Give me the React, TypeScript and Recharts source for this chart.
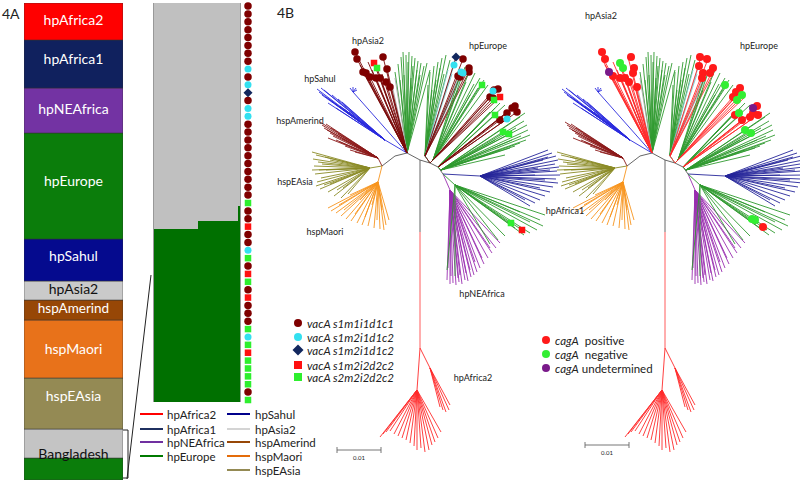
import React from 'react';
import {
  Bar,
  BarChart,
  LabelList,
  ReferenceLine,
  Scatter,
  ScatterChart,
  XAxis,
  YAxis
} from 'recharts';

const FONT = 'Lato, "Liberation Sans", sans-serif';

type Pt = [number, number];

// ---- 4A: reference populations strip (bottom to top) ----
const populations = [
  'BangladeshEurope', 'Bangladesh', 'hspEAsia', 'hspMaori', 'hspAmerind',
  'hpAsia2', 'hpSahul', 'hpEurope', 'hpNEAfrica', 'hpAfrica1', 'hpAfrica2'
];
const populationShare = [22, 29, 51, 58, 20, 19, 42, 106, 45, 48, 37];

const stripColor: Record<string, string> = {
  BangladeshEurope: '#0b7d0b', Bangladesh: '#c4c4c4', hspEAsia: '#948a54',
  hspMaori: '#e8721a', hspAmerind: '#974706', hpAsia2: '#cacaca',
  hpSahul: '#050a8e', hpEurope: '#0b7d0b', hpNEAfrica: '#7333a3',
  hpAfrica1: '#10215e', hpAfrica2: '#ff0000'
};
const stripLabelDy: Record<string, number> = {
  hpAfrica2: -2, hpAfrica1: -6, hpNEAfrica: -2, hpEurope: -6, hpSahul: -5,
  hpAsia2: -2, hspAmerind: -2, hspMaori: -1, hspEAsia: -8, Bangladesh: 10
};

// ---- Bangladesh isolates: hpEurope ancestry per individual ----
const europeShare = [
  0.434, 0.434, 0.434, 0.434, 0.434, 0.434, 0.434, 0.434, 0.434, 0.434, 0.434, 0.434, 0.434, 0.434,
  0.454, 0.454, 0.454, 0.454, 0.454, 0.454, 0.454, 0.454, 0.454, 0.454, 0.454, 0.454, 0.454,
  0.49
];

// vacA genotype of each isolate, top to bottom
// m: s1m1i1d1c1, c: s1m2i1d1c2, d: s1m2i1d1c2 (diamond), r: s1m2i2d2c2, g: s2m2i2d2c2
const vacAColumn = [
  'm', 'm', 'm', 'm', 'm', 'm', 'm', 'm', 'c', 'm', 'c', 'd', 'm', 'c', 'c',
  'm', 'm', 'm', 'm', 'm', 'm', 'm', 'm', 'm', 'm',
  'g', 'm', 'm', 'r', 'm', 'm', 'c', 'g', 'm', 'r', 'g', 'm', 'r', 'm', 'm', 'm',
  'g', 'c', 'g', 'r', 'g', 'g', 'g', 'g', 'm', 'g'
];

const legendLeft = ['hpAfrica2', 'hpAfrica1', 'hpNEAfrica', 'hpEurope'];
const legendRight = ['hpSahul', 'hpAsia2', 'hspAmerind', 'hspMaori', 'hspEAsia'];
const legendColor: Record<string, string> = {
  hpAfrica2: '#ff0000', hpAfrica1: '#1f3060', hpNEAfrica: '#7030a0', hpEurope: '#007a00',
  hpSahul: '#00008b', hpAsia2: '#d4d4d4', hspAmerind: '#974706', hspMaori: '#e46c0a', hspEAsia: '#948a54'
};

// ---- 4B: tree layout (units of the left panel) ----
const backbone: Pt[][] = [
  [[420, 160], [407, 153]],
  [[407, 153], [395, 156], [382, 166]],
  [[420, 160], [430, 163], [438, 167], [443, 174]],
  [[420, 160], [420, 232]]
];
const africa2Trunk: Pt[] = [[420, 232], [420, 348]];

const sahulTips: Pt[] = [[317, 89], [319, 92], [322, 95], [326, 97], [330, 100], [328, 103], [335, 104], [340, 106], [344, 109], [349, 112], [338, 99], [324, 90], [321, 88], [332, 95], [342, 102], [346, 112], [336, 108]];
const sahulTwigTips: Pt[] = [[350, 88], [353, 87], [356, 88], [357, 90]];
const amerindTips: Pt[] = [[320, 122], [322, 125], [324, 128], [327, 130], [330, 133], [333, 136], [328, 138], [336, 140], [340, 142], [345, 146], [350, 150], [355, 152], [326, 124], [331, 128], [338, 134], [343, 139]];
const eAsiaTips: Pt[] = [[312, 152], [316, 155], [313, 159], [318, 162], [314, 166], [319, 170], [315, 174], [321, 178], [317, 182], [324, 185], [320, 189], [328, 192], [334, 196], [341, 198], [348, 194], [330, 160], [325, 157], [322, 164], [326, 170], [312, 170], [316, 186], [330, 184], [337, 190], [343, 188]];
const maoriTips: Pt[] = [[328, 208], [331, 211], [336, 213], [341, 216], [346, 219], [351, 221], [357, 223], [362, 225], [368, 226], [374, 228], [380, 229], [386, 225], [389, 220], [382, 210], [372, 205], [360, 200], [350, 195], [344, 210], [355, 214], [365, 217], [377, 220], [384, 230], [339, 205]];
const asia2Tips: Pt[] = [[355, 52], [357, 59], [363, 72], [366, 73], [370, 77], [376, 78], [383, 57], [387, 69], [386, 82], [390, 87], [380, 78], [374, 63], [377, 68], [360, 65], [372, 70], [368, 62], [382, 74]];
const asia2GreyTips: Pt[] = [[392, 85], [395, 78], [384, 90], [378, 84]];
const europeNorthTips: Pt[] = [[395, 72], [398, 64], [401, 57], [403, 52], [406, 55], [409, 52], [412, 56], [415, 58], [418, 61], [421, 63], [424, 66], [427, 63], [430, 70], [400, 80], [404, 75], [408, 62], [413, 66], [417, 70], [420, 75], [411, 78]];
const europeG1Tips: Pt[] = [[430, 72], [434, 66], [438, 62], [442, 58], [446, 55], [450, 60], [436, 80], [428, 85], [440, 68], [444, 74], [432, 90]];
const europeG1BdTips: Pt[] = [[456, 57], [463, 59], [469, 68], [469, 72], [458, 76], [460, 77]];
const europeG1CyanTips: Pt[] = [[454, 65], [461, 72], [463, 73], [448, 70], [452, 74]];
const europeG2Tips: Pt[] = [[465, 67], [470, 70], [475, 73], [480, 78], [484, 80], [488, 85], [478, 88], [470, 95], [482, 85], [460, 75], [466, 82], [474, 84], [458, 90]];
const europeG2BdTips: Pt[] = [[494, 90], [498, 89], [490, 97], [493, 98], [500, 97], [494, 100]];
const europeG3Tips: Pt[] = [[500, 103], [505, 105], [495, 108], [490, 112], [495, 115], [485, 118]];
const europeG3BdTips: Pt[] = [[515, 106], [517, 112], [507, 113], [512, 108], [500, 120], [507, 119]];
const europeG4Tips: Pt[] = [[520, 117], [524, 121], [527, 125], [528, 130], [530, 135], [526, 140], [520, 143], [515, 146], [510, 148], [503, 132], [509, 134], [500, 150], [525, 113], [505, 155], [516, 128], [521, 136], [495, 140], [512, 140]];
const africa1Tips: Pt[] = [[548, 150], [552, 153], [556, 156], [558, 160], [555, 164], [559, 167], [557, 171], [560, 175], [556, 179], [558, 183], [553, 187], [550, 192], [545, 196], [540, 200], [535, 203], [530, 206], [543, 160], [538, 168], [550, 170], [545, 180], [535, 175], [540, 188], [548, 157], [525, 200]];
const europeSouthTips: Pt[] = [[540, 220], [543, 226], [537, 230], [530, 233], [524, 235], [515, 228], [511, 224], [522, 230], [505, 236], [498, 240], [545, 215], [520, 212], [447, 270], [455, 276], [530, 222], [490, 244]];
const neAfricaTips: Pt[] = [[447, 280], [450, 284], [453, 283], [456, 285], [459, 282], [462, 284], [465, 280], [468, 281], [471, 277], [474, 275], [477, 272], [480, 268], [484, 264], [488, 258], [492, 253], [496, 248], [500, 243], [460, 275], [470, 270], [475, 262], [451, 276], [458, 278], [466, 273], [482, 258], [490, 248], [448, 268]];
const africa2RightTips: Pt[] = [[440, 407], [443, 410], [446, 412], [449, 410], [450, 405]];
const africa2LeftTips: Pt[] = [[380, 437], [383, 434], [386, 432], [390, 431], [394, 434], [398, 436], [402, 438], [406, 440], [410, 443], [414, 446], [417, 450], [421, 448], [425, 452], [429, 450], [432, 445], [435, 442], [438, 438], [441, 432]];

// tip annotations, left tree (vacA)
const vacAOnTree: Record<string, Pt[]> = {
  m: [[355, 52], [357, 59], [363, 72], [366, 73], [370, 77], [376, 78], [383, 57], [387, 69], [386, 82], [390, 87], [380, 78],
    [463, 59], [469, 68], [469, 72], [458, 76], [460, 77],
    [494, 90], [498, 89], [490, 97], [493, 98],
    [515, 106], [517, 112], [507, 113], [512, 108], [500, 120]],
  c: [[454, 65], [461, 72], [463, 73], [493, 91], [507, 119]],
  d: [[456, 57]],
  r: [[374, 63], [500, 97], [522, 230]],
  g: [[377, 68], [482, 85], [494, 100], [495, 115], [503, 132], [509, 134], [511, 223]]
};
// tip annotations, right tree (cagA)
const cagAOnTree: Record<string, Pt[]> = {
  pos: [[357, 52], [360, 59], [386, 57], [389, 68], [388, 73], [392, 87], [375, 78], [380, 78], [368, 76], [384, 82],
    [455, 57], [462, 59], [454, 66], [468, 68], [465, 73], [458, 73], [457, 78],
    [495, 88], [491, 92], [488, 97],
    [512, 106], [508, 113], [513, 115], [505, 117], [497, 120], [490, 115], [518, 227]],
  neg: [[375, 63], [378, 68], [480, 85], [497, 95], [492, 100], [494, 113], [500, 130], [506, 133], [507, 219], [510, 220]],
  und: [[364, 72], [508, 108]]
};

const GREEN = '#2f9a2f';

type Clade = { color: string; path: Pt[]; tips: Pt[] };

const buildClades = (bd: string): Clade[] => [
  { color: '#2a2ade', path: [[407, 153], [385, 140]], tips: sahulTips },
  { color: '#2a2ade', path: [[407, 153], [353, 92]], tips: sahulTwigTips },
  { color: '#8b1a1a', path: [[382, 166], [378, 158]], tips: amerindTips },
  { color: '#8a8a25', path: [[382, 166], [370, 168]], tips: eAsiaTips },
  { color: '#f7941d', path: [[382, 166], [378, 182]], tips: maoriTips },
  { color: GREEN, path: [[407, 153]], tips: europeNorthTips },
  { color: '#a8a8a8', path: [[407, 153]], tips: asia2GreyTips },
  { color: bd, path: [[407, 153]], tips: asia2Tips },
  { color: GREEN, path: [[430, 163], [425, 156]], tips: europeG1Tips },
  { color: '#7fc9d0', path: [[430, 163], [425, 156]], tips: europeG1CyanTips },
  { color: bd, path: [[430, 163], [425, 156]], tips: europeG1BdTips },
  { color: GREEN, path: [[430, 163], [433, 160]], tips: europeG2Tips },
  { color: bd, path: [[430, 163], [433, 160]], tips: europeG2BdTips },
  { color: GREEN, path: [[438, 167]], tips: europeG3Tips },
  { color: bd, path: [[438, 167]], tips: europeG3BdTips },
  { color: GREEN, path: [[438, 167], [441, 170]], tips: europeG4Tips },
  { color: '#26269a', path: [[443, 174], [480, 176]], tips: africa1Tips },
  { color: '#9a2fb0', path: [[443, 174], [450, 190]], tips: neAfricaTips },
  { color: GREEN, path: [[443, 174], [455, 185]], tips: europeSouthTips },
  { color: '#ff2b2b', path: [[420, 348], [430, 368]], tips: africa2RightTips },
  { color: '#ff2b2b', path: [[420, 348], [417, 390]], tips: africa2LeftTips }
];

const seg = (a: Pt, b: Pt, color: string, key: string, w = 0.9) => (
  <ReferenceLine
    key={key}
    segment={[{ x: a[0], y: a[1] }, { x: b[0], y: b[1] }]}
    stroke={color}
    strokeWidth={w}
    ifOverflow="visible"
  />
);

const markerShape = (kind: string, color: string, size: number) => (p: any) => {
  const { cx, cy } = p;
  const h = size / 2;
  if (kind === 'square') return <rect x={cx - h} y={cy - h} width={size} height={size} fill={color} />;
  if (kind === 'diamond')
    return <polygon points={`${cx},${cy - h} ${cx + h},${cy} ${cx},${cy + h} ${cx - h},${cy}`} fill={color} />;
  return <circle cx={cx} cy={cy} r={h} fill={color} />;
};

const vacAStyle: Record<string, { kind: string; color: string; size: number }> = {
  m: { kind: 'circle', color: '#7f0000', size: 7.5 },
  c: { kind: 'circle', color: '#33e0f0', size: 7 },
  d: { kind: 'diamond', color: '#12275e', size: 9 },
  r: { kind: 'square', color: '#ff1010', size: 6.5 },
  g: { kind: 'square', color: '#2eef2e', size: 6.5 }
};
const cagAStyle: Record<string, { kind: string; color: string; size: number }> = {
  pos: { kind: 'circle', color: '#ff1a1a', size: 8 },
  neg: { kind: 'circle', color: '#33ee33', size: 8 },
  und: { kind: 'circle', color: '#7a1a8a', size: 8 }
};

const Tree = ({ bd, marks, styles, left, width, scaleX, scaleY }: any) => {
  const clades = buildClades(bd);
  const lines: React.ReactNode[] = [];
  backbone.forEach((path, i) =>
    path.slice(1).forEach((p, j) => lines.push(seg(path[j], p, '#555', `b${i}-${j}`)))
  );
  lines.push(seg(africa2Trunk[0], africa2Trunk[1], '#ff4a4a', 'trunk'));
  clades.forEach((c, i) => {
    c.path.slice(1).forEach((p, j) => lines.push(seg(c.path[j], p, c.color, `s${i}-${j}`)));
    const node = c.path[c.path.length - 1];
    c.tips.forEach((t, j) => lines.push(seg(node, t, c.color, `t${i}-${j}`)));
  });
  const sb: Pt[] = [[scaleX, scaleY], [scaleX + 44, scaleY]];
  lines.push(seg(sb[0], sb[1], '#666', 'sb'));
  lines.push(seg([sb[0][0], scaleY - 3], [sb[0][0], scaleY + 3], '#666', 'sb1'));
  lines.push(seg([sb[1][0], scaleY - 3], [sb[1][0], scaleY + 3], '#666', 'sb2'));
  return (
    <div style={{ position: 'absolute', left, top: 0 }}>
      <ScatterChart width={width} height={482} margin={{ top: 0, right: 0, bottom: 0, left: 0 }}>
        <XAxis type="number" dataKey="x" domain={[270, 270 + width]} allowDataOverflow hide />
        <YAxis type="number" dataKey="y" domain={[0, 482]} reversed allowDataOverflow hide />
        {lines}
        {Object.entries(marks as Record<string, Pt[]>).map(([k, pts]) => (
          <Scatter
            key={k}
            data={pts.map(([x, y]) => ({ x, y }))}
            isAnimationActive={false}
            shape={markerShape(styles[k].kind, styles[k].color, styles[k].size)}
          />
        ))}
      </ScatterChart>
    </div>
  );
};

const Txt = ({ x, y, size, children, anchor = 'middle', style }: any) => (
  <div
    style={{
      position: 'absolute', left: x, top: y,
      transform: `translate(${anchor === 'middle' ? '-50%' : '0'}, -50%)`,
      fontSize: size, whiteSpace: 'nowrap', lineHeight: 1, color: '#222', ...style
    }}
  >
    {children}
  </div>
);

const stripRow = [{ name: 'all', ...Object.fromEntries(populations.map((p, i) => [p, populationShare[i]])) }];
const admixture = europeShare.map((e, i) => ({ id: i, europe: e, asia2: 1 - e }));
const vacASeries = Object.keys(vacAStyle).map((k) => ({
  k,
  data: vacAColumn.map((g, i) => ({ g, x: 0, y: i })).filter((d) => d.g === k)
}));

// solid columns without hairline seams between neighbouring isolates
const seamless = (fill: string) => (p: any) => (
  <rect x={p.x} y={p.y} width={p.width + 0.7} height={p.height} fill={fill} shapeRendering="crispEdges" />
);

const LegendMarker = ({ kind, color, size }: any) => (
  <svg width={12} height={12} style={{ display: 'block' }}>
    {markerShape(kind, color, size)({ cx: 6, cy: 6 })}
  </svg>
);

export default function App() {
  return (
    <div
      style={{
        position: 'absolute', left: 0, top: 0, width: 800, height: 482,
        background: '#fff', overflow: 'hidden', fontFamily: FONT
      }}
    >
      <Txt x={2} y={14} size={14} anchor="left">4A</Txt>
      <Txt x={277} y={13} size={14} anchor="left">4B</Txt>

      {/* reference populations strip */}
      <div style={{ position: 'absolute', left: 24, top: 3 }}>
        <BarChart width={99} height={477} data={stripRow} margin={{ top: 0, right: 0, bottom: 0, left: 0 }} barCategoryGap={0}>
          <XAxis dataKey="name" hide />
          <YAxis type="number" domain={[0, 477]} hide />
          {populations.map((p) => (
            <Bar key={p} dataKey={p} stackId="a" fill={stripColor[p]} stroke="#333" strokeWidth={0.5} isAnimationActive={false}>
              {p !== 'BangladeshEurope' && (
                <LabelList
                  dataKey={p}
                  content={(lp: any) => (
                    <text
                      x={Number(lp.x) + Number(lp.width) / 2}
                      y={Number(lp.y) + Number(lp.height) / 2 + (stripLabelDy[p] || 0)}
                      textAnchor="middle"
                      dominantBaseline="central"
                      fontSize={p === 'hspAmerind' ? 13.5 : 14}
                      fontFamily={FONT}
                      fill={p === 'hpAsia2' || p === 'Bangladesh' ? '#111' : '#fff'}
                    >
                      {p}
                    </text>
                  )}
                />
              )}
            </Bar>
          ))}
        </BarChart>
      </div>

      {/* admixture of Bangladesh isolates */}
      <div style={{ position: 'absolute', left: 154, top: 3 }}>
        <BarChart width={86} height={399} data={admixture} margin={{ top: 0, right: 0, bottom: 0, left: 0 }} barCategoryGap={0} barGap={0}>
          <XAxis dataKey="id" hide />
          <YAxis type="number" domain={[0, 1]} hide />
          <Bar dataKey="europe" stackId="a" fill="#007000" shape={seamless('#007000')} isAnimationActive={false} />
          <Bar dataKey="asia2" stackId="a" fill="#c0c0c0" shape={seamless('#c0c0c0')} isAnimationActive={false} />
        </BarChart>
      </div>
      <div style={{ position: 'absolute', left: 153, top: 3, width: 88, height: 399, boxSizing: 'border-box', borderLeft: '1px solid #999', borderRight: '1px solid #999' }} />

      {/* vacA column */}
      <div style={{ position: 'absolute', left: 240, top: 0 }}>
        <ScatterChart width={16} height={406} margin={{ top: 6, right: 0, bottom: 6, left: 0 }}>
          <XAxis type="number" dataKey="x" domain={[-1, 1]} hide />
          <YAxis type="number" dataKey="y" domain={[0, 50]} reversed hide />
          {vacASeries.map((s) => (
            <Scatter
              key={s.k}
              data={s.data}
              isAnimationActive={false}
              shape={markerShape(vacAStyle[s.k].kind, vacAStyle[s.k].color, vacAStyle[s.k].size)}
            />
          ))}
        </ScatterChart>
      </div>

      {/* population colour legend */}
      {legendLeft.map((p, i) => (
        <div key={p} style={{ position: 'absolute', left: 140, top: [414, 429, 442, 456][i] - 7, display: 'flex', alignItems: 'center', height: 14 }}>
          <div style={{ width: 23, height: 2, background: legendColor[p] }} />
          <span style={{ marginLeft: 4, fontSize: 11.5, color: '#222' }}>{p}</span>
        </div>
      ))}
      {legendRight.map((p, i) => (
        <div key={p} style={{ position: 'absolute', left: 227, top: [414, 429, 442, 456, 470][i] - 7, display: 'flex', alignItems: 'center', height: 14 }}>
          <div style={{ width: 23, height: 2, background: legendColor[p] }} />
          <span style={{ marginLeft: 5, fontSize: 11.5, color: '#222' }}>{p}</span>
        </div>
      ))}

      <Tree bd="#7b0a0a" marks={vacAOnTree} styles={vacAStyle} left={270} width={300} scaleX={337} scaleY={450} />
      <Tree bd="#ff2b2b" marks={cagAOnTree} styles={cagAStyle} left={515} width={285} scaleX={340} scaleY={445} />

      {/* tree labels */}
      <Txt x={368} y={40} size={9}>hpAsia2</Txt>
      <Txt x={488} y={45} size={9}>hpEurope</Txt>
      <Txt x={320} y={78} size={9}>hpSahul</Txt>
      <Txt x={300} y={120} size={9}>hspAmerind</Txt>
      <Txt x={295} y={181} size={9}>hspEAsia</Txt>
      <Txt x={325} y={231} size={9}>hspMaori</Txt>
      <Txt x={565} y={210} size={9}>hpAfrica1</Txt>
      <Txt x={482} y={293} size={9}>hpNEAfrica</Txt>
      <Txt x={473} y={377} size={9}>hpAfrica2</Txt>
      <Txt x={601} y={15} size={9}>hpAsia2</Txt>
      <Txt x={759} y={45} size={9}>hpEurope</Txt>
      <Txt x={359} y={458} size={6}>0.01</Txt>
      <Txt x={607} y={453} size={6}>0.01</Txt>

      {/* vacA legend */}
      {['m', 'c', 'd', 'r', 'g'].map((k, i) => (
        <div key={k} style={{ position: 'absolute', left: 292, top: [323, 337, 350, 365, 377][i] - 7, display: 'flex', alignItems: 'center', height: 14 }}>
          <LegendMarker kind={vacAStyle[k].kind} color={vacAStyle[k].color} size={k === 'd' ? 11 : 8} />
          <span style={{ marginLeft: 3, fontSize: 11.5, fontStyle: 'italic', color: '#222' }}>
            {['vacA s1m1i1d1c1', 'vacA s1m2i1d1c2', 'vacA s1m2i1d1c2', 'vacA s1m2i2d2c2', 'vacA s2m2i2d2c2'][i]}
          </span>
        </div>
      ))}

      {/* cagA legend */}
      {['pos', 'neg', 'und'].map((k, i) => (
        <div key={k} style={{ position: 'absolute', left: 540, top: [340, 354, 368][i] - 7, display: 'flex', alignItems: 'center', height: 14 }}>
          <LegendMarker kind="circle" color={cagAStyle[k].color} size={8} />
          <span style={{ marginLeft: 3, fontSize: 11.5, color: '#222' }}>
            <i>cagA</i>
            {['\u00a0 positive', '\u00a0 negative', ' undetermined'][i]}
          </span>
        </div>
      ))}

      {/* bracket linking Bangladesh to the admixture plot */}
      <svg width={800} height={482} style={{ position: 'absolute', left: 0, top: 0, pointerEvents: 'none' }}>
        <polyline points="123,430 128,430 128,478 123,478" fill="none" stroke="#222" strokeWidth={1} />
        <line x1={127} y1={479} x2={151} y2={275} stroke="#222" strokeWidth={1} />
      </svg>
    </div>
  );
}
